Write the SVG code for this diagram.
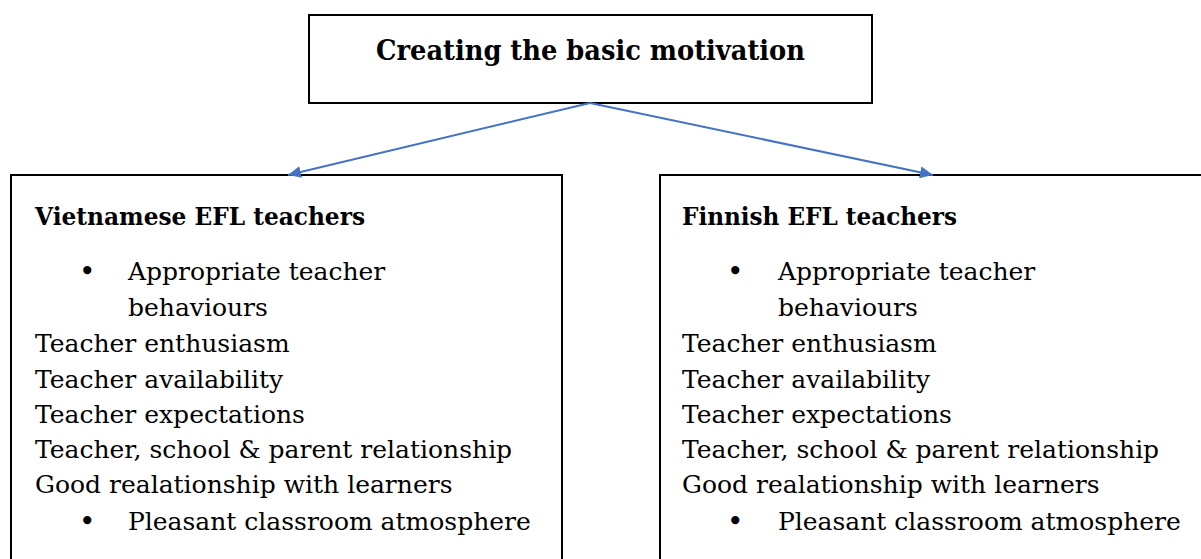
<svg xmlns="http://www.w3.org/2000/svg" width="1201" height="559" viewBox="0 0 1201 559">
  <defs>
    <marker id="arrow" markerUnits="userSpaceOnUse" markerWidth="14" markerHeight="12" refX="13" refY="6" orient="auto">
      <path d="M0,0 L13,6 L0,12 Z" fill="#4472C4"/>
    </marker>
    <style>
      .box { fill: #ffffff; stroke: #000000; stroke-width: 2; }
      .t { font-family: "DejaVu Serif", "Liberation Serif", serif; font-size: 25px; fill: #000000; }
      .b { font-weight: bold; }
      .title { font-size: 28px; }
      .bul { font-size: 28px; }
      .conn { stroke: #4472C4; stroke-width: 2; fill: none; marker-end: url(#arrow); }
    </style>
  </defs>
  <rect width="1201" height="559" fill="#ffffff"/>

  <g id="node-top">
    <rect class="box" x="309" y="15" width="563" height="88"/>
    <text class="t b title" x="376" y="60" textLength="429" lengthAdjust="spacingAndGlyphs">Creating the basic motivation</text>
  </g>

  <g id="node-vietnamese">
    <rect class="box" x="11" y="175" width="551" height="400"/>
    <text class="t b" x="35" y="225" textLength="330" lengthAdjust="spacingAndGlyphs">Vietnamese EFL teachers</text>
    <text class="t bul" x="79" y="281">•</text>
    <text class="t" x="128" y="280">Appropriate teacher</text>
    <text class="t" x="128" y="316">behaviours</text>
    <text class="t" x="35" y="352">Teacher enthusiasm</text>
    <text class="t" x="35" y="388">Teacher availability</text>
    <text class="t" x="35" y="423">Teacher expectations</text>
    <text class="t" x="35" y="458">Teacher, school &amp; parent relationship</text>
    <text class="t" x="35" y="493">Good realationship with learners</text>
    <text class="t bul" x="79" y="531">•</text>
    <text class="t" x="128" y="530">Pleasant classroom atmosphere</text>
  </g>

  <g id="node-finnish">
    <rect class="box" x="660" y="175" width="560" height="400"/>
    <text class="t b" x="682" y="225" textLength="275" lengthAdjust="spacingAndGlyphs">Finnish EFL teachers</text>
    <text class="t bul" x="727" y="281">•</text>
    <text class="t" x="778" y="280">Appropriate teacher</text>
    <text class="t" x="778" y="316">behaviours</text>
    <text class="t" x="682" y="352">Teacher enthusiasm</text>
    <text class="t" x="682" y="388">Teacher availability</text>
    <text class="t" x="682" y="423">Teacher expectations</text>
    <text class="t" x="682" y="458">Teacher, school &amp; parent relationship</text>
    <text class="t" x="682" y="493">Good realationship with learners</text>
    <text class="t bul" x="727" y="531">•</text>
    <text class="t" x="778" y="530">Pleasant classroom atmosphere</text>
  </g>

  <g id="connectors">
    <line class="conn" x1="590" y1="103" x2="288" y2="175"/>
    <line class="conn" x1="590" y1="103" x2="933" y2="175"/>
  </g>
</svg>
